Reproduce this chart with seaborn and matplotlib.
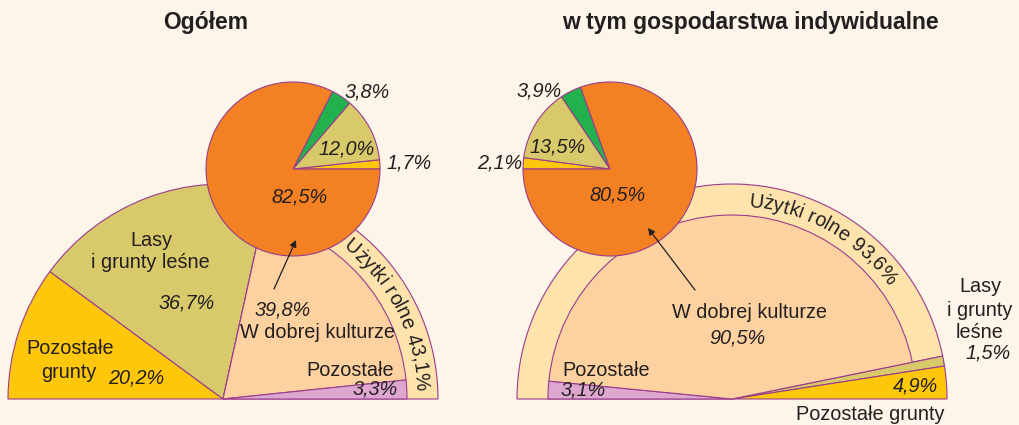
import numpy as np
import matplotlib
matplotlib.use("Agg")
import matplotlib.pyplot as plt
import seaborn as sns

# --- data (percent of total area) ---
# Ogółem
left_outer = [20.2, 36.7, 43.1]        # Pozostałe grunty, Lasy i grunty leśne, Użytki rolne
left_inner = [39.8, 3.3]               # W dobrej kulturze, Pozostałe (part of Użytki rolne)
left_pie = [1.7, 12.0, 3.8, 82.5]      # breakdown of "W dobrej kulturze"

# w tym gospodarstwa indywidualne
right_outer = [93.6, 1.5, 4.9]         # Użytki rolne, Lasy i grunty leśne, Pozostałe grunty
right_inner = [3.1, 90.5]              # Pozostałe, W dobrej kulturze
right_pie = [2.1, 13.5, 3.9, 80.5]

titles = ["Ogółem", "w tym gospodarstwa indywidualne"]

# --- colours ---
BG = "#FDF5EA"
ORANGE = "#F38124"
GREEN = "#23B14D"
KHAKI = "#D8C96B"
YELLOW = "#FFC70A"
PEACH = "#FDD1A0"
RING = "#FEE3AD"
PURPLE = "#DDA7CF"
EDGE = "#9A3C8C"
INK = "#231F20"

sns.set_theme(style="white")
plt.rcParams["font.family"] = ["Liberation Sans", "DejaVu Sans"]

W, H = 1019, 425
fig = plt.figure(figsize=(W / 100, H / 100), dpi=100, facecolor=BG)
ax = fig.add_axes([0, 0, 1, 1])
ax.set_facecolor(BG)

FS = 14.3
wp = dict(edgecolor=EDGE, linewidth=0.8)


def pct(v):
    return f"{v:.1f}".replace(".", ",") + "%"


def Y(py):
    # reference pixel row -> data y
    return H - py


def half(vals, colors, center, radius, start):
    ax.pie(np.array(vals) / 200, normalize=False, startangle=start, counterclock=False,
           colors=colors, center=center, radius=radius, wedgeprops=wp)


def txt(x, py, s, italic=False, **kw):
    ax.text(x, Y(py), s, fontsize=kw.pop("fontsize", FS), style="italic" if italic else "normal",
            color=INK, ha=kw.pop("ha", "center"), va=kw.pop("va", "center"), **kw)


# --- left panel ---
lc = (223, Y(399))
half(left_outer, [YELLOW, KHAKI, RING], lc, 215, 180)
half(left_inner, [PEACH, PURPLE], lc, 184, 180 - 1.8 * sum(left_outer[:2]))
ax.pie(left_pie, startangle=0, counterclock=True, colors=[YELLOW, KHAKI, GREEN, ORANGE],
       center=(293, Y(169)), radius=87, wedgeprops=wp)

# --- right panel ---
rc = (732, Y(399))
half(right_outer, [RING, KHAKI, YELLOW], rc, 215, 180)
half(right_inner, [PURPLE, PEACH], rc, 184, 180)
ax.pie(right_pie, startangle=180, counterclock=False, colors=[YELLOW, KHAKI, GREEN, ORANGE],
       center=(610, Y(169)), radius=87, wedgeprops=wp)

ax.set_xlim(0, W)
ax.set_ylim(0, H)
ax.set_aspect("equal")
ax.axis("off")

# arrows
arrow = dict(arrowstyle="-|>", color=INK, lw=0.9, mutation_scale=10, shrinkA=0, shrinkB=0)
ax.annotate("", xy=(296, Y(240)), xytext=(274, Y(289)), arrowprops=arrow)
ax.annotate("", xy=(648, Y(228)), xytext=(695, Y(290)), arrowprops=arrow)

# titles
txt(206, 22, titles[0], fontsize=16.5, fontweight="bold")
txt(750, 22, titles[1], fontsize=16.5, fontweight="bold")

# left labels
txt(367, 92, pct(left_pie[2]), italic=True)
txt(347, 149, pct(left_pie[1]), italic=True)
txt(409, 163, pct(left_pie[0]), italic=True)
txt(300, 197, pct(left_pie[3]), italic=True)
txt(151, 240, "Lasy")
txt(150, 263, "i grunty leśne")
txt(187, 303, pct(left_outer[1]), italic=True)
txt(70, 348, "Pozostałe")
txt(69, 373, "grunty")
txt(136, 378, pct(left_outer[0]), italic=True)
txt(283, 310, pct(left_inner[0]), italic=True)
txt(318, 333, "W dobrej kulturze")
txt(350, 370, "Pozostałe")
txt(375, 389, pct(left_inner[1]), italic=True)

# right labels
txt(539, 91, pct(right_pie[2]), italic=True)
txt(558, 147, pct(right_pie[1]), italic=True)
txt(500, 163, pct(right_pie[0]), italic=True)
txt(618, 195, pct(right_pie[3]), italic=True)
txt(750, 313, "W dobrej kulturze")
txt(737, 338, pct(right_inner[1]), italic=True)
txt(606, 370, "Pozostałe")
txt(583, 390, pct(right_inner[0]), italic=True)
txt(980, 287, "Lasy")
txt(980, 310, "i grunty")
txt(980, 333, "leśne")
txt(988, 353, pct(right_outer[1]), italic=True)
txt(915, 386, pct(right_outer[2]), italic=True)
txt(870, 414, "Pozostałe grunty")

# curved ring labels
renderer = fig.canvas.get_renderer()


def text_w(s):
    t = ax.text(0, 0, s + "I", fontsize=FS)
    w = t.get_window_extent(renderer).width
    t.remove()
    t = ax.text(0, 0, "I", fontsize=FS)
    w -= t.get_window_extent(renderer).width
    t.remove()
    return w


def arc_text(s, center, r, mid_deg):
    total = text_w(s)
    for i, ch in enumerate(s):
        if ch == " ":
            continue
        c = (text_w(s[:i]) + text_w(s[:i + 1])) / 2
        th = np.radians(mid_deg) - (c - total / 2) / r
        x = center[0] + r * np.cos(th)
        y = center[1] + r * np.sin(th)
        ax.text(x, y, ch, fontsize=FS, color=INK, rotation=np.degrees(th) - 90,
                rotation_mode="anchor", ha="center", va="baseline")


arc_text("Użytki rolne " + pct(left_outer[2]), lc, 193, 27)
arc_text("Użytki rolne " + pct(right_outer[0]), rc, 193, 60.5)

fig.savefig("out.png", dpi=100, facecolor=BG)
